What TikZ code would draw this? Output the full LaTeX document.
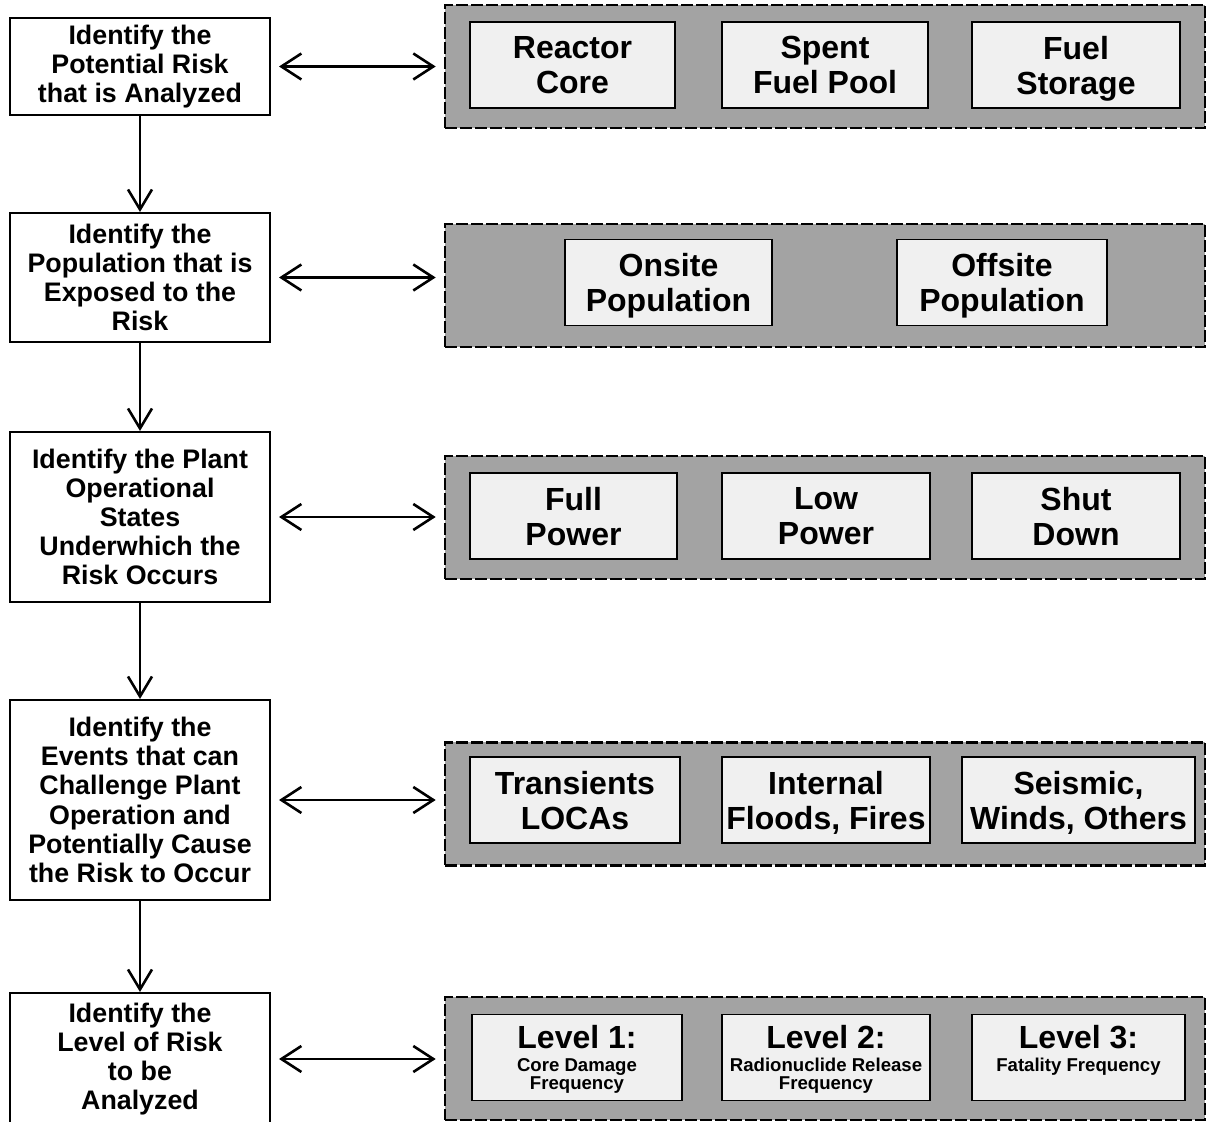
\documentclass[tikz,border=0pt]{standalone}
\usepackage{fontspec}
\setmainfont{Liberation Sans}
\usetikzlibrary{shapes,arrows.meta}

\begin{document}
\begin{tikzpicture}[x=0.5pt, y=-0.5pt,
	stepbox/.style={draw, line width=1pt, fill=white, align=center, minimum width=130pt, inner sep=0pt, font=\bfseries\fontsize{13.4}{14.6}\selectfont},
	panel/.style={draw, line width=1.3pt, dash pattern=on 6pt off 1.5pt, fill=black!36, minimum width=380pt, minimum height=61.5pt, inner sep=0pt},
	item/.style={draw, line width=0.9pt, fill=black!6, align=center, minimum height=43pt, inner sep=0pt, text depth=0pt, font=\bfseries\fontsize{16}{17.5}\selectfont},
	lvl/.style={item, font=\bfseries\fontsize{9.3}{8.8}\selectfont},
	link/.style={line width=1.3pt, {Straight Barb[length=10pt,width=13pt]}-{Straight Barb[length=10pt,width=13pt]}, shorten <=4pt, shorten >=4pt},
	down/.style={line width=1.3pt, -{Straight Barb[length=10pt,width=12pt]}}]
	\useasboundingbox (0,0) rectangle (1207,1122);
	
	% steps on the left
	\node[stepbox, minimum height=48.5pt] (risk) at (140,66.5) {Identify the\\Potential Risk\\that is Analyzed};
	\node[stepbox, minimum height=64.5pt] (popul) at (140,277.5) {Identify the\\Population that is\\Exposed to the\\Risk};
	\node[stepbox, minimum height=85pt] (states) at (140,517) {Identify the Plant\\Operational\\States\\Underwhich the\\Risk Occurs};
	\node[stepbox, minimum height=100pt] (events) at (140,800) {Identify the\\Events that can\\Challenge Plant\\Operation and\\Potentially Cause\\the Risk to Occur};
	\node[stepbox, minimum height=66pt] (level) at (140,1059) {Identify the\\Level of Risk\\to be\\Analyzed};
	
	% grey panels
	\node[panel] (pRisk) at (825,66.5) {};
	\node[panel] (pPopul) at (825,285.5) {};
	\node[panel] (pStates) at (825,517.5) {};
	\node[panel] (pEvents) at (825,804) {};
	\node[panel] (pLevel) at (825,1058.5) {};
	
	\node[item, minimum width=102.5pt] (core) at (572.5,65) {Reactor\\Core};
	\node[item, minimum width=103pt] (pool) at (825,65) {Spent\\Fuel Pool};
	\node[item, minimum width=104pt] (store) at (1076,65) {Fuel\\Storage};
	
	\node[item, minimum width=103.5pt] (onsite) at (668.5,282.5) {Onsite\\Population};
	\node[item, minimum width=105pt] (offsite) at (1002,282.5) {Offsite\\Population};
	
	\node[item, minimum width=103.5pt] (full) at (573.5,516) {Full\\Power};
	\node[item, minimum width=104pt] (low) at (826,516) {Low\\Power};
	\node[item, minimum width=104pt] (shut) at (1076,516) {Shut\\Down};
	
	\node[item, minimum width=105pt] (trans) at (575,800) {Transients\\LOCAs};
	\node[item, minimum width=104pt] (floods) at (826,800) {Internal\\Floods, Fires};
	\node[item, minimum width=116.5pt] (seismic) at (1078.5,800) {Seismic,\\Winds, Others};
	
	\node[lvl, minimum width=105pt] (lvlA) at (577,1057.5) {{\fontsize{16}{16}\selectfont Level 1:}\\[2.7pt]Core Damage\\Frequency};
	\node[lvl, minimum width=104pt] (lvlB) at (826,1057.5) {{\fontsize{16}{16}\selectfont Level 2:}\\[2.7pt]Radionuclide Release\\Frequency};
	\node[lvl, minimum width=106.5pt] (lvlC) at (1078.5,1057.5) {{\fontsize{16}{16}\selectfont Level 3:}\\[2.7pt]Fatality Frequency\\\mbox{}};
	
	% arrows
	\draw[down] (risk) -- (popul);
	\draw[down] (popul) -- (states);
	\draw[down] (states) -- (events);
	\draw[down] (events) -- (level);
	
	\draw[link] (risk.east) -- (risk.east -| pRisk.west);
	\draw[link] (popul.east) -- (popul.east -| pPopul.west);
	\draw[link] (states.east) -- (states.east -| pStates.west);
	\draw[link] (events.east) -- (events.east -| pEvents.west);
	\draw[link] (level.east) -- (level.east -| pLevel.west);
\end{tikzpicture}
\end{document}
